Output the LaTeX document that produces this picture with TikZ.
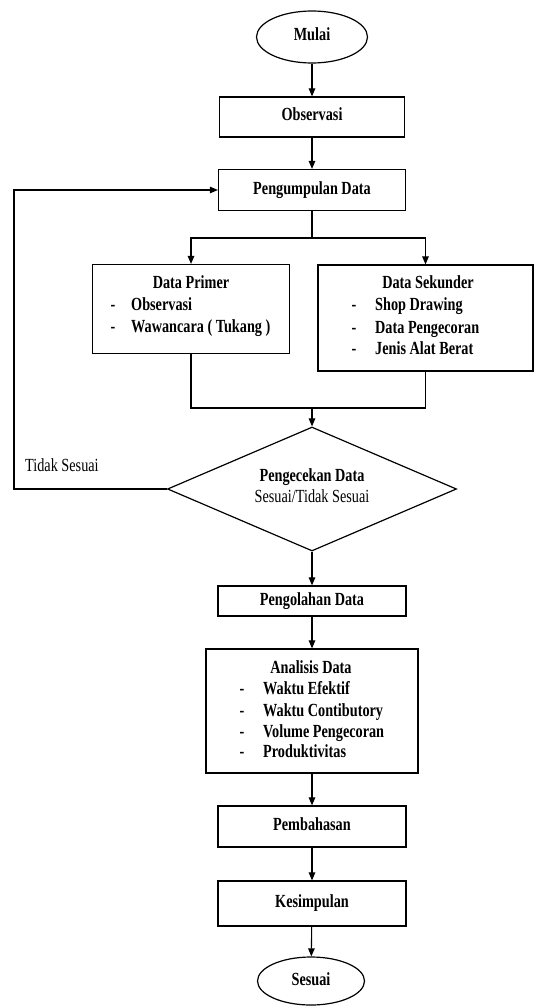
\documentclass[tikz,border=0pt]{standalone}
\usepackage{fontspec}
\setmainfont{Liberation Serif}[FakeStretch=0.77]
\usetikzlibrary{shapes.geometric,arrows.meta}
\begin{document}
\begin{tikzpicture}[x=1pt,y=-1pt,
  base/.style={inner sep=0pt, text height=12pt, text depth=4pt, font=\fontsize{18.5}{21.5}\selectfont\bfseries},
  reg/.style={inner sep=0pt, text height=12pt, text depth=4pt, font=\fontsize{18.5}{21.5}\selectfont},
  box/.style={base, draw, rectangle, line width=1.2pt},
  ell/.style={base, draw, ellipse, line width=1.2pt},
  dia/.style={draw, diamond, inner sep=0pt, line width=1.2pt},
  arr/.style={-{Triangle[length=8pt,width=6.5pt]}, line width=1.1pt},
  ln/.style={line width=1.1pt}]
\useasboundingbox (0,0) rectangle (536,1006);

% main nodes
\node[ell, minimum width=111, minimum height=52] (mulai) at (312,37) {Mulai};
\node[box, minimum width=185, minimum height=40] (obs) at (312,117) {Observasi};
\node[box, minimum width=187, minimum height=41] (kumpul) at (312,190) {Pengumpulan Data};
\node[box, minimum width=197, minimum height=89] (primer) at (191,309) {};
\node[box, minimum width=215, minimum height=106] (sekunder) at (425.5,318) {};
\node[dia, minimum width=289, minimum height=124] (cek) at (312,489) {};
\node[box, minimum width=188, minimum height=30] (olah) at (312,601) {Pengolahan Data};
\node[box, minimum width=212, minimum height=124] (analisis) at (312,711) {};
\node[box, minimum width=188, minimum height=41] (bahas) at (312,826.5) {Pembahasan};
\node[box, minimum width=188, minimum height=45] (simpul) at (312,903.5) {Kesimpulan};
\node[ell, minimum width=107, minimum height=48] (sesuai) at (311,981) {Sesuai};

% Data Primer content
\node[base] (p0) at (191,284) {Data Primer};
\node[base] (pd1) at (113,306) {-};
\node[base] (pd2) at (113,328) {-};
\node[base, anchor=west] (p1) at (131,306) {Observasi};
\node[base, anchor=west] (p2) at (131,328) {Wawancara ( Tukang )};

% Data Sekunder content
\node[base] (s0) at (428,284) {Data Sekunder};
\node[base] (sd1) at (354,306) {-};
\node[base] (sd2) at (354,329) {-};
\node[base] (sd3) at (354,350) {-};
\node[base, anchor=west] (s1) at (375,306) {Shop Drawing};
\node[base, anchor=west] (s2) at (375,329) {Data Pengecoran};
\node[base, anchor=west] (s3) at (375,350) {Jenis Alat Berat};

% Diamond content
\node[base] (c1) at (312,477) {Pengecekan Data};
\node[reg] (c2) at (312,498) {Sesuai/Tidak Sesuai};

% Analisis content
\node[base] (a0) at (311,669) {Analisis Data};
\node[base] (ad1) at (242,690) {-};
\node[base] (ad2) at (242,712) {-};
\node[base] (ad3) at (242,733) {-};
\node[base] (ad4) at (242,753) {-};
\node[base, anchor=west] (a1) at (263,690) {Waktu Efektif};
\node[base, anchor=west] (a2) at (263,712) {Waktu Contibutory};
\node[base, anchor=west] (a3) at (263,733) {Volume Pengecoran};
\node[base, anchor=west] (a4) at (263,753) {Produktivitas};

% feedback label
\node[reg, anchor=west] (tidak) at (25,467) {Tidak Sesuai};

% helper coordinates
\coordinate (split) at (312,238);
\coordinate (join) at (312,408);
\coordinate (loop) at (14,489);

% connectors
\draw[arr] (mulai) -- (obs);
\draw[arr] (obs) -- (kumpul);
\draw[ln] (kumpul) -- (split);
\draw[arr] (split) -| (primer.north);
\draw[arr] (split) -| (sekunder.north);
\draw[ln] (primer.south) |- (join) -| (sekunder.south);
\draw[arr] (join) -- (cek.north);
\draw[arr] (cek.west) -- (loop) |- (kumpul.west);
\draw[arr] (cek.south) -- (olah.north);
\draw[arr] (olah) -- (analisis);
\draw[arr] (analisis) -- (bahas);
\draw[arr] (bahas) -- (simpul);
\draw[arr] (simpul) -- (sesuai);
\end{tikzpicture}
\end{document}
